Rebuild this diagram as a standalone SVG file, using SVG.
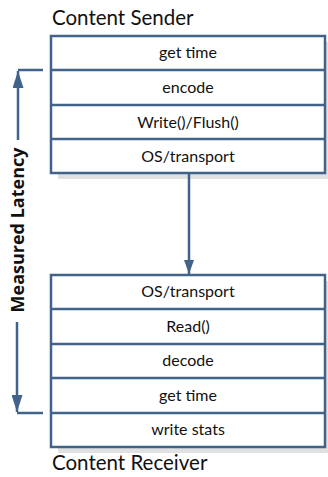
<svg xmlns="http://www.w3.org/2000/svg" width="328" height="477" viewBox="0 0 328 477">
<defs>
<style>
.box{fill:#ffffff;stroke:#41638a;stroke-width:2.5}
.row{stroke:#41638a;stroke-width:2.5}
.shadow{fill:#e1e1e1}
.lbl{font-family:Lato,"Open Sans",sans-serif;font-size:16px;fill:#111;text-anchor:middle}
.title{font-family:Lato,"Open Sans",sans-serif;font-size:20.5px;fill:#111}
.conn{stroke:#41638a;stroke-width:2.5;fill:none}
.meas{font-family:"Open Sans","Liberation Sans",sans-serif;font-size:18px;font-weight:bold;fill:#111;text-anchor:middle}
</style>
<marker id="ah" viewBox="0 0 14 10" refX="14" refY="5" markerWidth="14" markerHeight="10" markerUnits="userSpaceOnUse" orient="auto">
<path d="M0,0 L14,5 L0,10 Z" fill="#41638a"/>
</marker>
<marker id="ah2" viewBox="0 0 17 11" refX="17" refY="5.5" markerWidth="17" markerHeight="11" markerUnits="userSpaceOnUse" orient="auto">
<path d="M0,0 L17,5.5 L0,11 Z" fill="#41638a"/>
</marker>
</defs>
<rect width="328" height="477" fill="#ffffff"/>
<text class="title" x="52" y="25">Content Sender</text>
<text class="title" x="52" y="470">Content Receiver</text>
<g id="sender">
<rect class="shadow" x="58" y="42" width="270" height="137"/>
<rect class="box" x="51" y="36" width="274" height="137"/>
<line class="row" x1="51" y1="70" x2="325" y2="70"/>
<line class="row" x1="51" y1="105" x2="325" y2="105"/>
<line class="row" x1="51" y1="139" x2="325" y2="139"/>
<text class="lbl" x="188" y="58">get time</text>
<text class="lbl" x="188" y="93">encode</text>
<text class="lbl" x="188" y="128">Write()/Flush()</text>
<text class="lbl" x="188" y="162">OS/transport</text>
</g>
<g id="receiver">
<rect class="shadow" x="58" y="281" width="270" height="172"/>
<rect class="box" x="51" y="275" width="274" height="172"/>
<line class="row" x1="51" y1="309" x2="325" y2="309"/>
<line class="row" x1="51" y1="344" x2="325" y2="344"/>
<line class="row" x1="51" y1="378" x2="325" y2="378"/>
<line class="row" x1="51" y1="413" x2="325" y2="413"/>
<text class="lbl" x="188" y="297">OS/transport</text>
<text class="lbl" x="188" y="332">Read()</text>
<text class="lbl" x="188" y="366">decode</text>
<text class="lbl" x="188" y="401">get time</text>
<text class="lbl" x="188" y="435">write stats</text>
</g>
<g id="connectors">
<line class="conn" x1="189" y1="173" x2="189" y2="274" marker-end="url(#ah)"/>
<polyline class="conn" points="43,70 18,70"/>
<line class="conn" x1="18" y1="140" x2="18" y2="71" marker-end="url(#ah2)"/>
<polyline class="conn" points="43,413 17,413"/>
<line class="conn" x1="17" y1="322" x2="17" y2="412" marker-end="url(#ah2)"/>
</g>
<g id="measured-latency">
<text class="meas" transform="translate(24,230) rotate(-90)">Measured Latency</text>
</g>
</svg>
